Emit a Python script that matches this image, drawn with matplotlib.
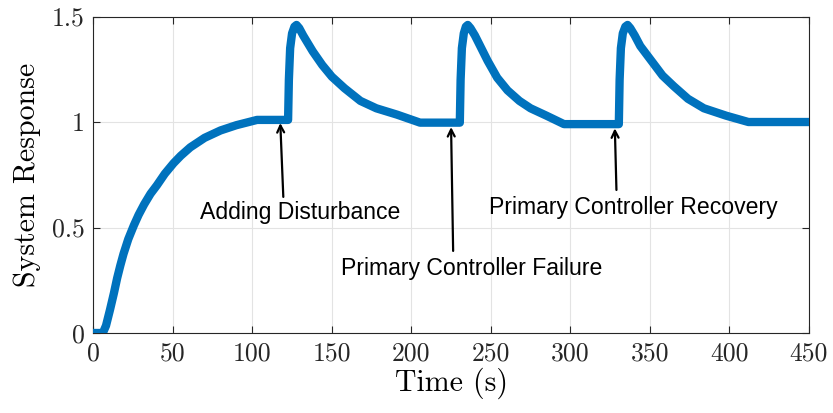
import numpy as np
import matplotlib
matplotlib.use('Agg')
from matplotlib import pyplot as plt

# lectura aproximada de la curva (tiempo, respuesta)
t_rise = [0, 6, 8, 10.5, 13, 15, 17, 19, 22, 25.5, 28.5, 32, 36, 40, 45, 50.5, 55, 61, 70, 80, 90, 103]
y_rise = [0, 0, 0.035, 0.11, 0.19, 0.26, 0.32, 0.375, 0.445, 0.51, 0.56, 0.61, 0.66, 0.70, 0.755, 0.805, 0.84, 0.88, 0.925, 0.96, 0.985, 1.01]

t_c1 = [122.5, 123.0, 123.8, 125.0, 126.5, 127.8, 129.5, 132, 138, 144, 150, 158, 168, 178, 191, 205.5]
y_c1 = [1.01, 1.2, 1.35, 1.42, 1.452, 1.46, 1.445, 1.41, 1.335, 1.27, 1.215, 1.16, 1.10, 1.065, 1.035, 0.997]

t_c2 = [230.5, 231.0, 231.8, 233.0, 234.3, 235.5, 237.2, 240, 248, 254, 260.5, 268, 275, 285, 296]
y_c2 = [0.997, 1.2, 1.35, 1.42, 1.452, 1.46, 1.445, 1.41, 1.29, 1.21, 1.15, 1.10, 1.065, 1.03, 0.99]

t_c3 = [330.5, 331.0, 331.8, 333.0, 334.6, 336, 337.7, 340.5, 344, 352, 358, 365, 374, 384, 398, 412, 450]
y_c3 = [0.99, 1.2, 1.35, 1.42, 1.452, 1.46, 1.445, 1.41, 1.36, 1.28, 1.22, 1.17, 1.11, 1.065, 1.03, 1.0, 1.0]

# anotaciones: texto, punta de flecha, cola, posicion del texto
notas = ['Adding Disturbance', 'Primary Controller Failure', 'Primary Controller Recovery']
punta = [(117.6, 0.995), (225.0, 0.976), (328.0, 0.97)]
cola = [(119.5, 0.645), (226.3, 0.389), (329.0, 0.678)]
pos_texto = [(130.3, 0.569), (238.0, 0.308), (339.7, 0.597)]

xticks = [0, 50, 100, 150, 200, 250, 300, 350, 400, 450]
yticks = [0, 0.5, 1, 1.5]
yticklabels = ['0', '0.5', '1', '1.5']

t = np.array(t_rise + t_c1 + t_c2 + t_c3)
y = np.array(y_rise + y_c1 + y_c2 + y_c3)

plt.rcParams['font.family'] = 'serif'
plt.rcParams['font.serif'] = ['cmr10']
plt.rcParams['axes.formatter.use_mathtext'] = True

fig = plt.figure(figsize=(8.33, 4.13), dpi=100)
ax = fig.add_axes([0.112, 0.1937, 0.859, 0.7663])

ax.plot(t, y, color='#0072BD', lw=6, solid_capstyle='round', solid_joinstyle='round', zorder=3)

for txt, p, c, pt in zip(notas, punta, cola, pos_texto):
    ax.annotate('', xy=p, xytext=c,
                arrowprops=dict(arrowstyle='->,head_length=0.5,head_width=0.25', color='k', lw=1.6,
                                shrinkA=0, shrinkB=0), zorder=4)
    ax.text(pt[0], pt[1], txt, ha='center', va='center', fontsize=16.6,
            family=['Liberation Sans', 'DejaVu Sans'], color='k', zorder=5)

ax.set_xlim(0, 450)
ax.set_ylim(0, 1.5)
ax.set_xticks(xticks)
ax.set_xticklabels([str(v) for v in xticks])
ax.set_yticks(yticks)
ax.set_yticklabels(yticklabels)
ax.grid(True, color='#e3e3e3', lw=0.8)
ax.set_axisbelow(True)
ax.tick_params(direction='in', length=5, width=0.8, colors='#262626', labelsize=18.5,
               top=True, right=True, pad=6)
for s in ax.spines.values():
    s.set_color('#262626')
    s.set_linewidth(0.8)

ax.set_xlabel('Time (s)', fontsize=21.5, labelpad=2)
ax.set_ylabel('System Response', fontsize=21.5, labelpad=8)

fig.savefig('out.png', dpi=100)
